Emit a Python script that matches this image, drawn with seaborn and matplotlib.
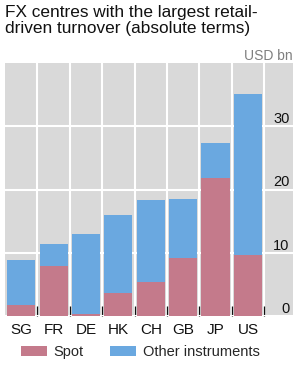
import numpy as np
import matplotlib
matplotlib.use("Agg")
import matplotlib.pyplot as plt
from matplotlib.ticker import FixedLocator
import seaborn as sns

# --- Data (USD bn) ---
centres = ["SG", "FR", "DE", "HK", "CH", "GB", "JP", "US"]
spot = [1.8, 7.9, 0.3, 3.7, 5.3, 9.1, 21.8, 9.6]
other = [7.1, 3.5, 12.6, 12.3, 13.0, 9.4, 5.6, 25.5]
y_ticks = [0, 10, 20, 30]

SPOT_COLOR = "#C47A8B"
OTHER_COLOR = "#6AA8E0"
BG = "#D9D9D9"

sns.set_style("white", {"axes.facecolor": BG})
plt.rcParams["font.family"] = ["Liberation Sans", "DejaVu Sans"]

W, H = 301, 366
fig = plt.figure(figsize=(W / 100, H / 100), dpi=100)
ax = fig.add_axes([5 / W, (H - 316) / H, 288 / W, (316 - 63) / H])

total = np.array(spot) + np.array(other)
sns.barplot(x=centres, y=total, color=OTHER_COLOR, width=0.87, saturation=1,
            linewidth=0, label="Other instruments", ax=ax)
sns.barplot(x=centres, y=spot, color=SPOT_COLOR, width=0.87, saturation=1,
            linewidth=0, label="Spot", ax=ax)
if ax.get_legend() is not None:
    ax.get_legend().remove()

ax.set_xlim(-0.5, 8.39)
ax.set_ylim(0, 40)
for s in ax.spines.values():
    s.set_visible(False)

# gridlines: white, vertical between categories
ax.set_axisbelow(True)
ax.xaxis.set_minor_locator(FixedLocator(np.arange(0.5, len(centres), 1.0)))
ax.grid(False)
ax.grid(which="minor", axis="x", color="white", linewidth=1.5)
ax.grid(which="major", axis="y", color="white", linewidth=1.5)

ax.tick_params(axis="x", which="major", length=0, pad=5, labelsize=11,
               colors="#111111")
ax.tick_params(axis="x", which="minor", direction="in", length=7, width=0.9,
               color="#111111", bottom=True)

ax.set_yticks(y_ticks)
ax.yaxis.tick_right()
ax.tick_params(axis="y", length=0, pad=-2.5, labelsize=10.5, colors="#111111")
for lbl in ax.get_yticklabels():
    lbl.set_ha("right")
    lbl.set_va("bottom")
ax.set_xlabel("")
ax.set_ylabel("")

# title and unit
fig.text(5 / W, 1 - 5 / H, "FX centres with the largest retail-\ndriven turnover (absolute terms)",
         ha="left", va="top", fontsize=12.4, linespacing=1.08, color="#111111")
fig.text(293 / W, 1 - 60 / H, "USD bn", ha="right", va="baseline",
         fontsize=10, color="#7F7F7F")

# legend
handles, labels = ax.get_legend_handles_labels()
order = [labels.index("Spot"), labels.index("Other instruments")]
fig.legend([handles[i] for i in order], [labels[i] for i in order],
           loc="center left", bbox_to_anchor=(21 / W, 1 - 352 / H),
           ncol=2, frameon=False, fontsize=10.5, borderpad=0, borderaxespad=0,
           handlelength=1.75, handleheight=0.62, handletextpad=0.5,
           columnspacing=1.8)

fig.savefig("out.png", dpi=100)
